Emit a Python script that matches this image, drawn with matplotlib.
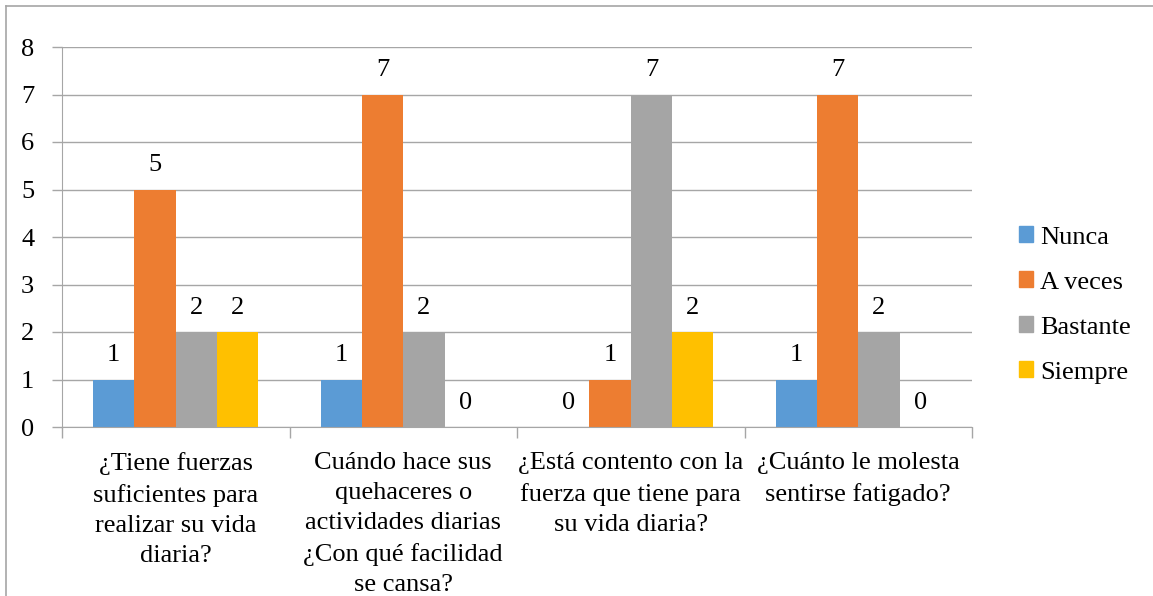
import matplotlib
matplotlib.use("Agg")
import matplotlib.pyplot as plt
from matplotlib.lines import Line2D
import numpy as np

categories = [
    "¿Tiene fuerzas\nsuficientes para\nrealizar su vida\ndiaria?",
    "Cuándo hace sus\nquehaceres o\nactividades diarias\n¿Con qué facilidad\nse cansa?",
    "¿Está contento con la\nfuerza que tiene para\nsu vida diaria?",
    "¿Cuánto le molesta\nsentirse fatigado?",
]
series_names = ["Nunca", "A veces", "Bastante", "Siempre"]
nunca = [1, 1, 0, 1]
a_veces = [5, 7, 1, 7]
bastante = [2, 2, 7, 2]
siempre = [2, 0, 2, 0]
colors = ["#5B9BD5", "#ED7D31", "#A5A5A5", "#FFC000"]
y_ticks = [0, 1, 2, 3, 4, 5, 6, 7, 8]

plt.rcParams["font.family"] = "serif"
plt.rcParams["font.serif"] = ["Liberation Serif", "DejaVu Serif"]
FAM = "Liberation Serif"
FS = 19

fig = plt.figure(figsize=(11.53, 5.96), dpi=100)
ax = fig.add_axes([62 / 1153, 1 - 427 / 596, (972 - 62) / 1153, (427 - 47) / 596])

values = [nunca, a_veces, bastante, siempre]
n = len(categories)
x = np.arange(n)
bw = 1 / (4 + 1.5)
for i, (name, vals, c) in enumerate(zip(series_names, values, colors)):
    pos = x + (i - 1.5) * bw
    ax.bar(pos, vals, width=bw, color=c, label=name, zorder=2)
    for p, v in zip(pos, vals):
        ax.annotate(str(v), (p, v), xytext=(0, 17.5), textcoords="offset points",
                    ha="center", va="center", fontsize=FS, family=FAM, color="#000000")

ax.set_xlim(-0.5, n - 0.5)
ax.set_ylim(0, 8)
ax.set_yticks(y_ticks)
ax.set_yticklabels([str(t) for t in y_ticks], fontsize=FS, family=FAM)
ax.yaxis.grid(True, color="#A6A6A6", linewidth=1.0, zorder=0)
ax.set_axisbelow(True)
ax.set_xticks(np.arange(n + 1) - 0.5)
ax.set_xticklabels([])
ax.tick_params(axis="x", length=8, color="#A6A6A6", width=1.0)
ax.tick_params(axis="y", length=7, color="#A6A6A6", width=1.0, pad=13)
for s in ["top", "right"]:
    ax.spines[s].set_visible(False)
ax.spines["left"].set_color("#A6A6A6")
ax.spines["bottom"].set_color("#A6A6A6")

for xi, lab in zip(x, categories):
    ax.text(xi, -0.53, lab, ha="center", va="top", fontsize=FS, family=FAM,
            linespacing=1.48, transform=ax.transData)

handles = [plt.Rectangle((0, 0), 1, 1, color=c) for c in colors]
fig.legend(handles, series_names, loc="center left", bbox_to_anchor=(995 / 1153, 1 - 305 / 596),
           frameon=False, prop={"family": FAM, "size": FS}, handlelength=0.55, handleheight=0.55,
           handletextpad=0.25, labelspacing=0.86)

fig.add_artist(Line2D([6 / 1153, 6 / 1153], [0, 1 - 6 / 596], color="#A6A6A6", lw=1.2,
                      transform=fig.transFigure))
fig.add_artist(Line2D([6 / 1153, 1], [1 - 6 / 596, 1 - 6 / 596], color="#A6A6A6", lw=1.2,
                      transform=fig.transFigure))

fig.savefig("out.png", dpi=100)
